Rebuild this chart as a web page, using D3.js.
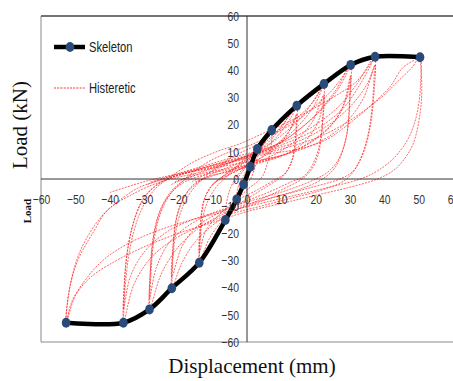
<!DOCTYPE html>
<html>
<head>
<meta charset="utf-8">
<script src="https://cdn.jsdelivr.net/npm/d3@7"></script>
<style>
  body { margin: 0; background: #fff; }
  svg { display: block; }
</style>
</head>
<body>
<div id="chart"></div>
<script>
// tick values for both axes
const xTicks = [-60, -50, -40, -30, -20, -10, 0, 10, 20, 30, 40, 50, 60];
const yTicks = [-60, -50, -40, -30, -20, -10, 0, 10, 20, 30, 40, 50, 60];

// skeleton (envelope) curve: [displacement mm, load kN]
const skeleton = [
    [-52.7, -52.9], [-36.0, -52.9], [-28.4, -48.0], [-21.9, -40.2], [-13.9, -30.8],
    [-6.3, -15.1], [-3.0, -7.5], [-1.0, -2.0], [1.0, 4.5], [3.0, 11.0],
    [7.2, 18.0], [14.5, 27.0], [22.4, 35.0], [30.2, 42.0], [37.3, 45.0], [50.4, 44.8]
];

// hysteretic loops
const loopA = [[-2, -3], [0, 2], [1.5, 6], [3, 11], [2.8, 7], [2, 3], [1, 0], [-1, -3], [-2, -5], [-3, -8],
    [-2.8, -4], [-2, -1], [-1, 1], [0, 4], [1.5, 8], [3, 11]];
const loopB = [[-4, -2], [0, 5], [4, 11], [7.2, 18], [7, 12], [6, 6], [4.5, 1], [3, -1], [0, -4], [-3, -8],
    [-6.3, -15.1], [-6, -9], [-5, -4], [-3.5, 0], [-1, 4], [2, 8], [5, 13], [7.2, 18]];
const loopC = [[-10, -2], [-5, 3], [0, 7], [5, 12], [10, 19], [14.5, 27], [14.3, 19], [13.8, 11], [12.5, 5],
    [10.5, 1], [8, -1], [3, -5], [-2, -9], [-7, -15], [-11, -22], [-13.9, -30.8], [-13.7, -22], [-13.2, -13],
    [-12, -6], [-10, -2], [-7, 1], [-2, 5], [4, 10], [9, 16], [13, 23], [14.5, 27]];
const loopC2 = [[-9, -1], [-3, 3], [3, 7], [9, 13], [13, 19], [14.5, 24], [14.2, 15], [13.2, 7], [11, 2],
    [8.5, 0], [3, -4], [-3, -8], [-8, -13], [-12, -19], [-13.9, -27], [-13.6, -17], [-12.6, -8], [-10.5, -3],
    [-8, 0], [-3, 3], [3, 7], [8, 11], [12, 17], [14.5, 24]];
const loopD = [[-16, -1], [-10, 3], [-3, 7], [4, 11], [10, 16], [16, 23], [20, 30], [22.4, 35], [22.2, 26],
    [21.6, 15], [20.5, 8], [18.5, 3], [16, 0], [10, -4], [3, -8], [-4, -12], [-10, -17], [-15, -23], [-19, -31],
    [-21.9, -40.2], [-21.7, -30], [-21.2, -20], [-20, -12], [-18, -6], [-15, -2], [-10, 2], [-4, 5], [3, 9],
    [10, 14], [16, 21], [20, 28], [22.4, 35]];
const loopD2 = [[-15, -1], [-8, 2], [0, 5], [8, 9], [14, 14], [19, 21], [22.4, 31], [22, 21], [21, 12],
    [19, 5], [16.5, 1], [13, -1], [6, -5], [-2, -9], [-9, -13], [-15, -18], [-19, -25], [-21.9, -36],
    [-21.5, -24], [-20.5, -14], [-18.5, -7], [-15.5, -2], [-11, 1], [-4, 3], [4, 6], [11, 9], [17, 14],
    [21, 22], [22.4, 31]];
const loopE = [[-22, -2], [-15, 2], [-8, 5], [0, 8], [8, 12], [15, 18], [21, 25], [26, 33], [30.2, 42],
    [30, 32], [29.5, 20], [28, 11], [25.5, 4], [22, 0], [15, -4], [7, -7], [0, -10], [-7, -13], [-14, -18],
    [-20, -25], [-25, -35], [-28.4, -48], [-28.2, -36], [-27.6, -24], [-26, -14], [-23.5, -7], [-20, -2],
    [-14, 2], [-7, 5], [1, 9], [9, 13], [16, 19], [22, 26], [27, 34], [30.2, 42]];
const loopE2 = [[-21, -1], [-13, 2], [-5, 4], [3, 6], [11, 9], [18, 13], [24, 19], [28, 27], [30.2, 38],
    [29.8, 27], [29, 16], [27, 8], [24, 3], [20, 0], [12, -4], [4, -7], [-4, -10], [-11, -13], [-18, -18],
    [-23, -24], [-26.5, -33], [-28.4, -44], [-28, -31], [-27, -20], [-25, -11], [-22, -5], [-18, -1],
    [-11, 2], [-3, 4], [5, 7], [13, 10], [20, 15], [26, 22], [29, 30], [30.2, 38]];
const loopF = [[-29, -2], [-20, 2], [-12, 5], [-4, 8], [5, 11], [13, 15], [20, 20], [27, 27], [32, 35],
    [37.3, 45], [37, 37], [36.4, 26], [35, 15], [32.5, 6], [29, 0], [22, -4], [13, -7], [4, -10], [-5, -13],
    [-13, -17], [-21, -22], [-28, -29], [-33, -39], [-36, -52.9], [-35.8, -42], [-35.2, -30], [-33.5, -18],
    [-31, -9], [-27, -3], [-21, 1], [-13, 4], [-5, 7], [4, 10], [13, 14], [21, 19], [28, 26], [33, 35],
    [37.3, 45]];
const loopF2 = [[-28, -1], [-19, 2], [-10, 4], [-1, 6], [8, 8], [16, 11], [23, 15], [29, 21], [34, 30],
    [37.3, 42], [37, 32], [36, 20], [34, 10], [31, 3], [27, 0], [19, -3], [10, -6], [1, -9], [-8, -12],
    [-16, -15], [-24, -20], [-30, -27], [-34, -36], [-36, -48], [-35.6, -36], [-34.5, -24], [-32.5, -14],
    [-29.5, -6], [-25, -1], [-18, 2], [-10, 5], [-1, 8], [8, 11], [17, 15], [25, 21], [31, 28], [35, 35],
    [37.3, 42]];
const loopG = [[50.4, 44.8], [50.9, 35], [50.5, 25], [48.4, 13], [45, 6], [42.5, 3], [38, 0], [30, -3],
    [20, -6], [10, -9], [0, -12], [-10, -16], [-20, -20], [-30, -25], [-38, -30], [-45.4, -36], [-50, -43],
    [-52.7, -52.9], [-51.3, -38], [-48.4, -26], [-42.5, -14], [-35.7, -6.5], [-30.9, -2.8], [-24, 0],
    [-15, 3], [-5, 6], [5, 9], [15, 11], [23, 14.4], [30, 20.6], [36, 27], [41.7, 34], [45.4, 41], [50.4, 44.8]];
const loopG2 = [[-40, -5], [-30, -1], [-20, 2], [-10, 5], [0, 8], [10, 11], [20, 15], [28, 20], [35, 26],
    [40, 31], [44, 36], [48, 41], [50.4, 44.8], [50.6, 36], [49.5, 24], [47, 15], [43, 8], [38, 3], [33, 0],
    [24, -3], [14, -6], [4, -9], [-6, -12], [-16, -15], [-26, -19], [-35, -24], [-42, -30], [-47, -37],
    [-51, -45], [-52.7, -52.9], [-51.8, -41], [-49.3, -30], [-44.5, -19], [-40.6, -11.4], [-32.9, -5.3],
    [-25, -1], [-15, 2]];
// reloading branches that cross into the upper-left quadrant
const branchH = [[-28.4, -48], [-28, -35], [-27, -22], [-25, -12], [-22, -5], [-18, 0], [-13, 5], [-7, 9],
    [0, 12], [7, 16], [14, 21], [20, 27], [25, 33], [30.2, 42]];
const branchI = [[-21.9, -40.2], [-21.5, -28], [-20, -15], [-17, -6], [-13, 0], [-8, 5], [-3, 9], [2, 12],
    [8, 17], [14, 22], [19, 28], [22.4, 35]];
const branchJ = [[-36, -52.9], [-35.5, -40], [-34, -25], [-31, -12], [-27, -4], [-22, 1], [-16, 6], [-9, 10],
    [-2, 13], [5, 17], [12, 21], [18, 25], [25, 30], [32, 36], [37.3, 45]];
const branchK = [[-13.9, -30.8], [-13.5, -20], [-12, -10], [-9, -3], [-5, 2], [-1, 7], [4, 12], [9, 18],
    [14.5, 27]];

const loops = [loopA, loopB, loopC, loopC2, loopD, loopD2, loopE, loopE2, loopF, loopF2, loopG, loopG2,
    branchH, branchI, branchJ, branchK];

const W = 453, H = 381;
const svg = d3.select('#chart').append('svg').attr('width', W).attr('height', H);

const x = d3.scaleLinear().domain([-60, 60]).range([41, 453]);
const y = d3.scaleLinear().domain([-60, 60]).range([342, 16]);

const serif = '"Liberation Serif", "DejaVu Serif", serif';
const sans = '"Liberation Sans", Arial, sans-serif';
const squeeze = 0.8; // narrow look of the original font

// frame
svg.append('line').attr('x1', x(-60)).attr('x2', x(-60)).attr('y1', y(60)).attr('y2', y(-60))
    .attr('stroke', '#8a8a8a').attr('stroke-width', 1);
svg.append('line').attr('x1', x(-60)).attr('x2', x(60)).attr('y1', y(-60)).attr('y2', y(-60))
    .attr('stroke', '#8a8a8a').attr('stroke-width', 1);
svg.append('line').attr('x1', x(-60)).attr('x2', x(60)).attr('y1', y(60)).attr('y2', y(60))
    .attr('stroke', '#444').attr('stroke-width', 1.3);

// hysteretic loops
const line = d3.line().x(d => x(d[0])).y(d => y(d[1])).curve(d3.curveCatmullRom.alpha(0.5));
svg.append('g').selectAll('path').data(loops).join('path')
    .attr('d', line)
    .attr('fill', 'none')
    .attr('stroke', '#ff1a1a')
    .attr('stroke-opacity', 0.75)
    .attr('stroke-width', 0.9)
    .attr('stroke-dasharray', '2,1.2');

// zero axes
svg.append('line').attr('x1', x(0)).attr('x2', x(0)).attr('y1', y(60)).attr('y2', y(-60))
    .attr('stroke', '#333').attr('stroke-width', 1);
svg.append('line').attr('x1', x(-60)).attr('x2', x(60)).attr('y1', y(0)).attr('y2', y(0))
    .attr('stroke', '#333').attr('stroke-width', 1);

// skeleton
svg.append('path').datum(skeleton)
    .attr('d', d3.line().x(d => x(d[0])).y(d => y(d[1])).curve(d3.curveCatmullRom.alpha(0.5)))
    .attr('fill', 'none').attr('stroke', '#000').attr('stroke-width', 4.5);
svg.append('g').selectAll('ellipse').data(skeleton).join('ellipse')
    .attr('cx', d => x(d[0])).attr('cy', d => y(d[1]))
    .attr('rx', 4.3).attr('ry', 5)
    .attr('fill', '#2a4a7a');

// tick labels
const yAxis = svg.append('g').attr('transform', `translate(${x(0)},0)`)
    .call(d3.axisLeft(y).tickValues(yTicks).tickSize(0).tickPadding(8));
yAxis.select('.domain').remove();
yAxis.selectAll('.tick text').attr('x', -8 / squeeze);
const xAxis = svg.append('g').attr('transform', `translate(0,${y(0)})`)
    .call(d3.axisBottom(x).tickValues(xTicks).tickSize(0).tickPadding(16));
xAxis.select('.domain').remove();
[yAxis, xAxis].forEach(g => g.attr('font-family', sans).attr('font-size', 13));
svg.selectAll('.tick text')
    .attr('transform', `scale(${squeeze},1)`)
    .attr('fill', '#333');

// legend
svg.append('line').attr('x1', 54).attr('x2', 85).attr('y1', 47).attr('y2', 47)
    .attr('stroke', '#000').attr('stroke-width', 4.5);
svg.append('ellipse').attr('cx', 70).attr('cy', 47).attr('rx', 4.3).attr('ry', 5).attr('fill', '#2a4a7a');
svg.append('text').attr('transform', `translate(89,52) scale(${squeeze},1)`).text('Skeleton')
    .attr('font-family', sans).attr('font-size', 14).attr('fill', '#222');
svg.append('line').attr('x1', 54).attr('x2', 85).attr('y1', 88).attr('y2', 88)
    .attr('stroke', '#ff1a1a').attr('stroke-width', 0.9).attr('stroke-dasharray', '2,1.2');
svg.append('text').attr('transform', `translate(89,93) scale(${squeeze},1)`).text('Histeretic')
    .attr('font-family', sans).attr('font-size', 14).attr('fill', '#222');

// axis titles
svg.append('text').attr('transform', 'translate(27,125) rotate(-90)')
    .attr('text-anchor', 'middle').attr('font-family', serif).attr('font-size', 21)
    .attr('fill', '#111').text('Load (kN)');
svg.append('text').attr('transform', 'translate(31,211) rotate(-90)')
    .attr('text-anchor', 'middle').attr('font-family', serif).attr('font-size', 11)
    .attr('font-weight', 'bold').attr('fill', '#111').text('Load');
svg.append('text').attr('x', 252).attr('y', 373)
    .attr('text-anchor', 'middle').attr('font-family', serif).attr('font-size', 21)
    .attr('fill', '#111').text('Displacement (mm)');
</script>
</body>
</html>
